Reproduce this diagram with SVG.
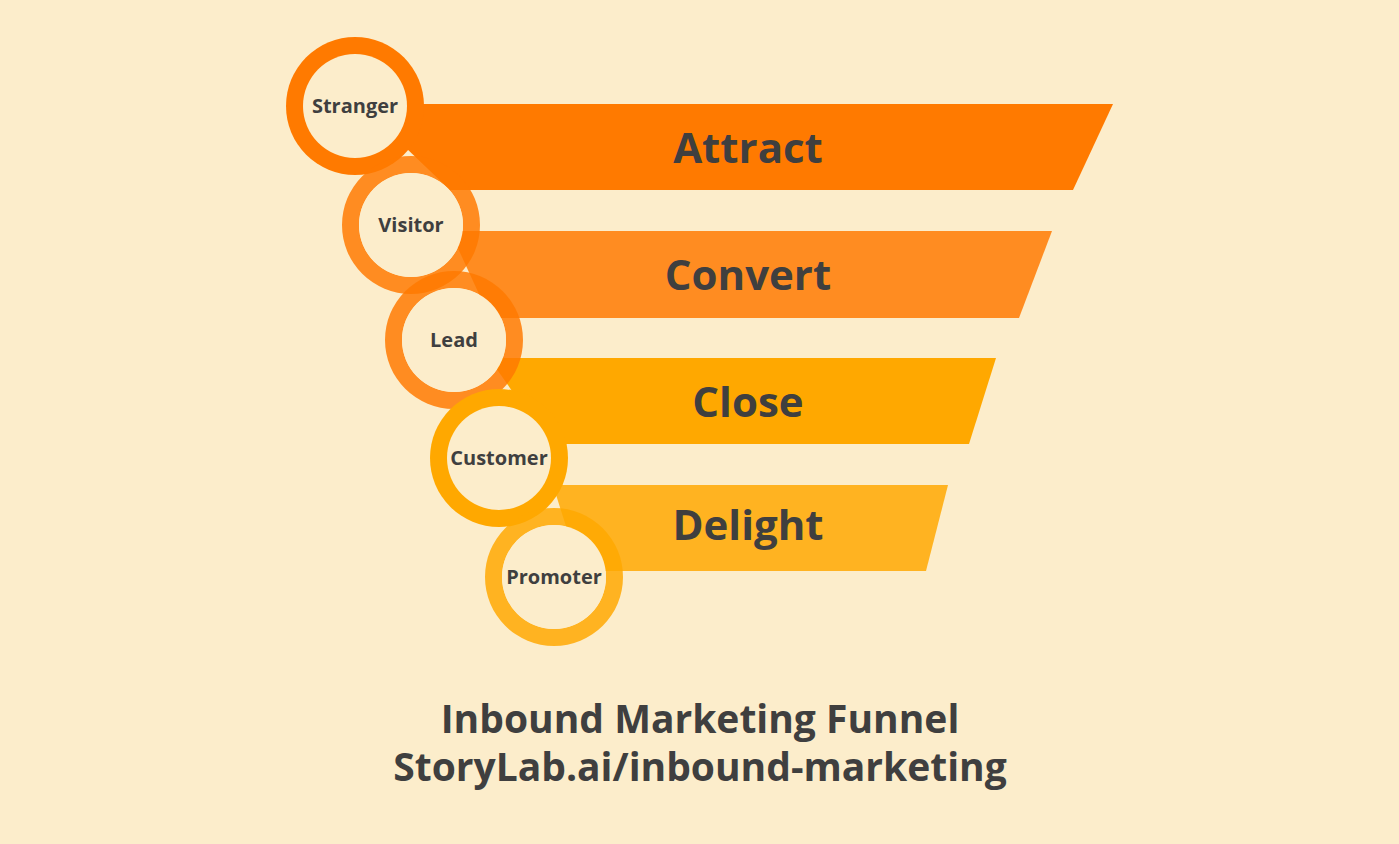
<svg xmlns="http://www.w3.org/2000/svg" width="1399" height="844" viewBox="0 0 1399 844">
<style>
.band-label{font-family:"Open Sans",Lato,sans-serif;font-weight:700;font-size:42px;fill:#3f3f3f;text-anchor:middle}
.node-label{font-family:"Open Sans",Lato,sans-serif;font-weight:700;font-size:20px;fill:#3f3f3f;text-anchor:middle}
.title{font-family:"Open Sans",Lato,sans-serif;font-weight:700;font-size:39px;fill:#3f3f3f;text-anchor:middle}
.inner{fill:#fcedcb}
</style>
<rect width="1399" height="844" fill="#fcedcb"/>
<g id="bands">
  <g id="band-attract">
    <polygon points="360,104 1113,104 1073,190 450,190" fill="#ff7a00"/>
    <text class="band-label" x="748" y="163">Attract</text>
  </g>
  <g id="band-convert">
    <polygon points="450,231 1052,231 1019,318 490,318" fill="#ff7a00" fill-opacity="0.84"/>
    <text class="band-label" x="748" y="290">Convert</text>
  </g>
  <g id="band-close">
    <polygon points="489,358 996,358 969,444 549,444" fill="#ffa800"/>
    <text class="band-label" x="748" y="417">Close</text>
  </g>
  <g id="band-delight">
    <polygon points="553,485 948,485 926,571 580,571" fill="#ffa800" fill-opacity="0.84"/>
    <text class="band-label" x="748" y="540">Delight</text>
  </g>
</g>
<g id="node-stranger">
  <circle cx="355" cy="106" r="69" fill="#ff7a00"/>
  <circle class="inner" cx="355" cy="106" r="52"/>
  <text class="node-label" x="355" y="113">Stranger</text>
</g>
<g id="node-visitor">
  <path d="M342,225a69,69 0 1,0 138,0a69,69 0 1,0 -138,0ZM359,225a52,52 0 1,0 104,0a52,52 0 1,0 -104,0Z" fill="#ff7a00" fill-opacity="0.84" fill-rule="evenodd"/>
  <circle class="inner" cx="411" cy="225" r="52"/>
  <text class="node-label" x="411" y="232">Visitor</text>
</g>
<g id="node-lead">
  <path d="M385,340a69,69 0 1,0 138,0a69,69 0 1,0 -138,0ZM402,340a52,52 0 1,0 104,0a52,52 0 1,0 -104,0Z" fill="#ff7a00" fill-opacity="0.84" fill-rule="evenodd"/>
  <circle class="inner" cx="454" cy="340" r="52"/>
  <text class="node-label" x="454" y="347">Lead</text>
</g>
<g id="node-customer">
  <circle cx="499" cy="458" r="69" fill="#ffa800"/>
  <circle class="inner" cx="499" cy="458" r="52"/>
  <text class="node-label" x="499" y="465">Customer</text>
</g>
<g id="node-promoter">
  <path d="M485,577a69,69 0 1,0 138,0a69,69 0 1,0 -138,0ZM502,577a52,52 0 1,0 104,0a52,52 0 1,0 -104,0Z" fill="#ffa800" fill-opacity="0.84" fill-rule="evenodd"/>
  <circle class="inner" cx="554" cy="577" r="52"/>
  <text class="node-label" x="554" y="584">Promoter</text>
</g>
<g id="connectors"></g>
<g id="caption">
  <text class="title" x="700" y="733">Inbound Marketing Funnel</text>
  <text class="title" x="700" y="781">StoryLab.ai/inbound-marketing</text>
</g>
</svg>
